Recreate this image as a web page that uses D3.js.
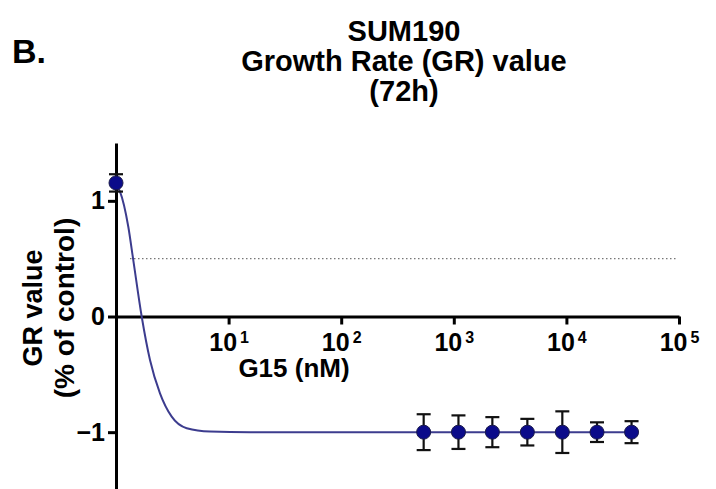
<!DOCTYPE html>
<meta charset="utf-8">
<script src="https://d3js.org/d3.v7.min.js"></script>
<style>
  body { margin: 0; background: #fff; }
  text { font-family: "Liberation Sans", Arial, sans-serif; font-weight: bold; }
</style>
<div id="chart"></div>
<script>
  // dose (nM) and mean GR value with error
  var doses  = [1, 540, 1100, 2200, 4500, 9200, 18700, 37900];
  var grMean = [1.155, -1.0, -1.0, -1.0, -1.0, -1.0, -1.0, -1.0];
  var grErr  = [0.075, 0.155, 0.145, 0.13, 0.115, 0.18, 0.085, 0.095];

  // fitted curve, sampled off the figure
  var curveDose = [1, 1.085, 1.286, 1.424, 1.691, 2.004, 2.459, 3.124, 4.246, 6.84, 15.5, 37900];
  var curveGR   = [1.14, 1.08, 0.776, 0.488, 0.0, -0.376, -0.664, -0.866, -0.966, -0.995, -1.0, -1.0];

  var xTicks = [10, 100, 1000, 10000, 100000];
  var xExp   = ["1", "2", "3", "4", "5"];
  var yTicks = [-1, 0, 1];
  var halfLine = 0.5;

  var width = 716, height = 489;

  var svg = d3.select("#chart")
    .append("svg")
      .attr("width", width)
      .attr("height", height);

  var x = d3.scaleLog()
    .domain([1, 100000])
    .range([116, 679]);

  var y = d3.scaleLinear()
    .domain([-1.5, 1.5])
    .range([490, 143]);

  // titles
  svg.append("text")
    .attr("x", 12).attr("y", 63)
    .style("font-size", "34px")
    .text("B.");

  var titles = ["SUM190", "Growth Rate (GR) value", "(72h)"];
  svg.selectAll(".title")
    .data(titles)
    .enter()
    .append("text")
      .attr("class", "title")
      .attr("x", 404)
      .attr("y", function(d, i){ return 41 + i * 30; })
      .attr("text-anchor", "middle")
      .style("font-size", "29px")
      .text(function(d){ return d; });

  // dotted 0.5 line
  svg.append("line")
    .attr("x1", 130).attr("x2", 677)
    .attr("y1", y(halfLine)).attr("y2", y(halfLine))
    .attr("stroke", "#777")
    .attr("stroke-width", 1.3)
    .attr("stroke-dasharray", "1.5,2.5");

  // y axis
  var gy = svg.append("g")
    .attr("transform", "translate(" + x(1) + ",0)")
    .call(d3.axisLeft(y).tickValues(yTicks).tickSize(8).tickSizeOuter(0).tickPadding(3).tickFormat(d3.format("d")));
  gy.select(".domain").attr("stroke-width", 3);
  gy.selectAll(".tick line").attr("stroke-width", 3);
  gy.selectAll(".tick text").style("font-size", "25px").attr("fill", "#000");

  // x axis at y = 0
  var gx = svg.append("g")
    .attr("transform", "translate(0," + y(0) + ")")
    .call(d3.axisBottom(x).tickValues(xTicks).tickSize(8).tickSizeOuter(0).tickPadding(6));
  gx.select(".domain").attr("stroke-width", 3);
  gx.selectAll(".tick line").attr("stroke-width", 3);
  gx.selectAll(".tick text").each(function(d, i){
    var t = d3.select(this).text("").attr("fill", "#000").style("font-size", "25px")
      .attr("y", 34).attr("dy", null);
    t.append("tspan").text("10");
    t.append("tspan").attr("dx", 3).attr("dy", -8).style("font-size", "16px").text(xExp[i]);
  });

  // axis titles
  svg.append("text")
    .attr("x", 294).attr("y", 377)
    .attr("text-anchor", "middle")
    .style("font-size", "26px")
    .text("G15 (nM)");

  svg.append("text")
    .attr("transform", "translate(42,308) rotate(-90)")
    .attr("text-anchor", "middle")
    .style("font-size", "27px")
    .text("GR value");
  svg.append("text")
    .attr("transform", "translate(74,308) rotate(-90)")
    .attr("text-anchor", "middle")
    .style("font-size", "28px")
    .text("(% of control)");

  // fitted curve
  var line = d3.line()
    .x(function(d){ return x(d[0]); })
    .y(function(d){ return y(d[1]); })
    .curve(d3.curveMonotoneX);
  svg.append("path")
    .datum(d3.zip(curveDose, curveGR))
    .attr("d", line)
    .attr("fill", "none")
    .attr("stroke", "#3c3c8e")
    .attr("stroke-width", 2);

  // error bars
  var pts = doses.map(function(d, i){ return {dose: d, m: grMean[i], e: grErr[i]}; });
  var eb = svg.append("g").selectAll("g").data(pts).enter().append("g");
  eb.append("line")
    .attr("x1", function(d){ return x(d.dose); })
    .attr("x2", function(d){ return x(d.dose); })
    .attr("y1", function(d){ return y(d.m + d.e); })
    .attr("y2", function(d){ return y(d.m - d.e); })
    .attr("stroke", "#111").attr("stroke-width", 2.2);
  [1, -1].forEach(function(s){
    eb.append("line")
      .attr("x1", function(d){ return x(d.dose) - 7; })
      .attr("x2", function(d){ return x(d.dose) + 7; })
      .attr("y1", function(d){ return y(d.m + s * d.e); })
      .attr("y2", function(d){ return y(d.m + s * d.e); })
      .attr("stroke", "#111").attr("stroke-width", 2.2);
  });

  // points
  svg.append("g")
    .selectAll("circle")
    .data(pts)
    .enter()
    .append("circle")
      .attr("cx", function(d){ return x(d.dose); })
      .attr("cy", function(d){ return y(d.m); })
      .attr("r", 7)
      .attr("fill", "#0b0b8a")
      .attr("stroke", "#1a1a4a")
      .attr("stroke-width", 1);
</script>
